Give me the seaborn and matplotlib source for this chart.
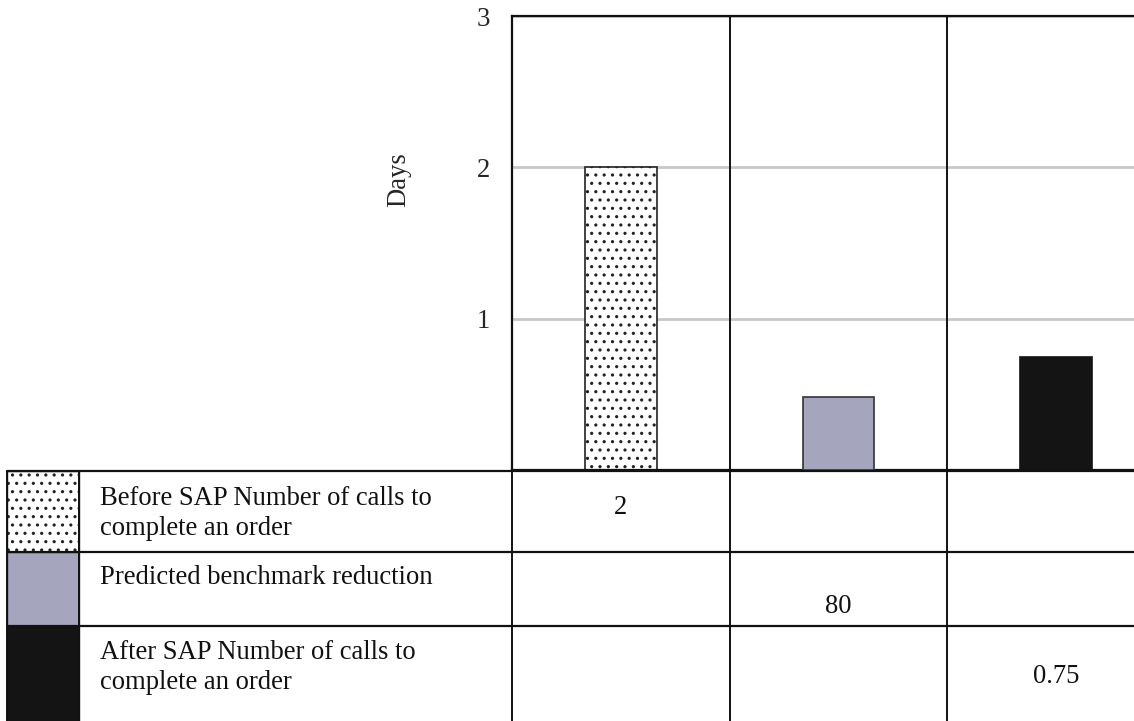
import matplotlib
matplotlib.use("Agg")
import matplotlib.pyplot as plt
import matplotlib.transforms as mtransforms
from matplotlib.patches import Rectangle
import seaborn as sns

# ---- data -----------------------------------------------------------------
series_labels = [
    "Before SAP Number of calls to complete an order",
    "Predicted benchmark reduction",
    "After SAP Number of calls to complete an order",
]
legend_lines = [
    ["Before SAP Number of calls to", "complete an order"],
    ["Predicted benchmark reduction"],
    ["After SAP Number of calls to", "complete an order"],
]
series_values = [2, 80, 0.75]
value_labels = ["2", "80", "0.75"]
y_ticks = [1, 2, 3]
y_label = "Days"

# ---- styling ----------------------------------------------------------------
bar_colors = ["white", "#a5a5be", "#141414"]
bar_edges = ["#222222", "#333333", "#141414"]
bar_hatches = ["..", None, None]
FS = 19.2
LINE = "#111111"

sns.set_theme(style="white")
plt.rcParams["font.family"] = ["Liberation Serif", "DejaVu Serif"]
plt.rcParams["hatch.linewidth"] = 1.1

W, H = 1134, 721
fig = plt.figure(figsize=(W / 100, H / 100), dpi=100)

# layer for the data table, in pixel units
tab = fig.add_axes([0, 0, 1, 1])
tab.set_xlim(0, W)
tab.set_ylim(H, 0)
tab.axis("off")

# chart area
ax = fig.add_axes([512 / W, 1 - 470 / H, 653 / W, 454 / H])
ax2 = ax.twinx()  # secondary scale for the benchmark series

for i, (lab, val) in enumerate(zip(series_labels, series_values)):
    target = ax2 if i == 1 else ax
    sns.barplot(
        x=[lab], y=[val], order=series_labels,
        color=bar_colors[i], saturation=1, width=0.33,
        edgecolor=bar_edges[i], linewidth=1.2, hatch=bar_hatches[i],
        ax=target,
    )

ax.set_xlim(-0.5, 2.5)
ax.set_ylim(0, 3)
ax2.set_ylim(0, 500)
ax2.set_yticks([])
ax2.set_ylabel("")
ax2.set_xlabel("")
for s in ax2.spines.values():
    s.set_visible(False)

ax.set_xticks([])
ax.set_xlabel("")
ax.set_yticks(y_ticks)
ax.set_yticklabels([str(t) for t in y_ticks], fontsize=FS)
ax.tick_params(axis="y", length=0, pad=16)
ax.yaxis.grid(True, color="#c8c8c8", linewidth=2)
ax.set_axisbelow(True)
for x in [0.5, 1.5]:
    ax.axvline(x, color=LINE, linewidth=1.4, zorder=1)
for side in ["left", "top", "bottom"]:
    ax.spines[side].set_color(LINE)
    ax.spines[side].set_linewidth(1.6)
ax.spines["right"].set_visible(False)

ax.set_ylabel(y_label, fontsize=FS)
ax.yaxis.set_label_coords(-0.155, 0.639)

# ---- data table -------------------------------------------------------------
row_edges = [471, 552, 626, 740]
col_tf = mtransforms.blended_transform_factory(ax.transData, tab.transData)

for y in row_edges[:3]:
    tab.plot([7, W], [y, y], color=LINE, linewidth=1.6)
for x in [7, 79]:
    tab.plot([x, x], [row_edges[0], H], color=LINE, linewidth=1.4)
for x in [-0.5, 0.5, 1.5]:
    tab.plot([x, x], [row_edges[0], H], color=LINE, linewidth=1.4,
             transform=col_tf, clip_on=False)

text_baselines = [[505, 535], [584], [659, 689]]
value_baselines = [514, 613, 683]
for i in range(3):
    top, bottom = row_edges[i], row_edges[i + 1]
    tab.add_patch(Rectangle((7, top), 72, bottom - top,
                            facecolor=bar_colors[i], edgecolor=bar_edges[i],
                            hatch=bar_hatches[i], linewidth=1.0, zorder=1))
    for line, yb in zip(legend_lines[i], text_baselines[i]):
        tab.text(100, yb, line, fontsize=FS, va="baseline", ha="left",
                 color="#111111")
    tab.text(i, value_baselines[i], value_labels[i], fontsize=FS,
             va="baseline", ha="center", color="#111111",
             transform=col_tf)

fig.savefig("out.png", dpi=100)
